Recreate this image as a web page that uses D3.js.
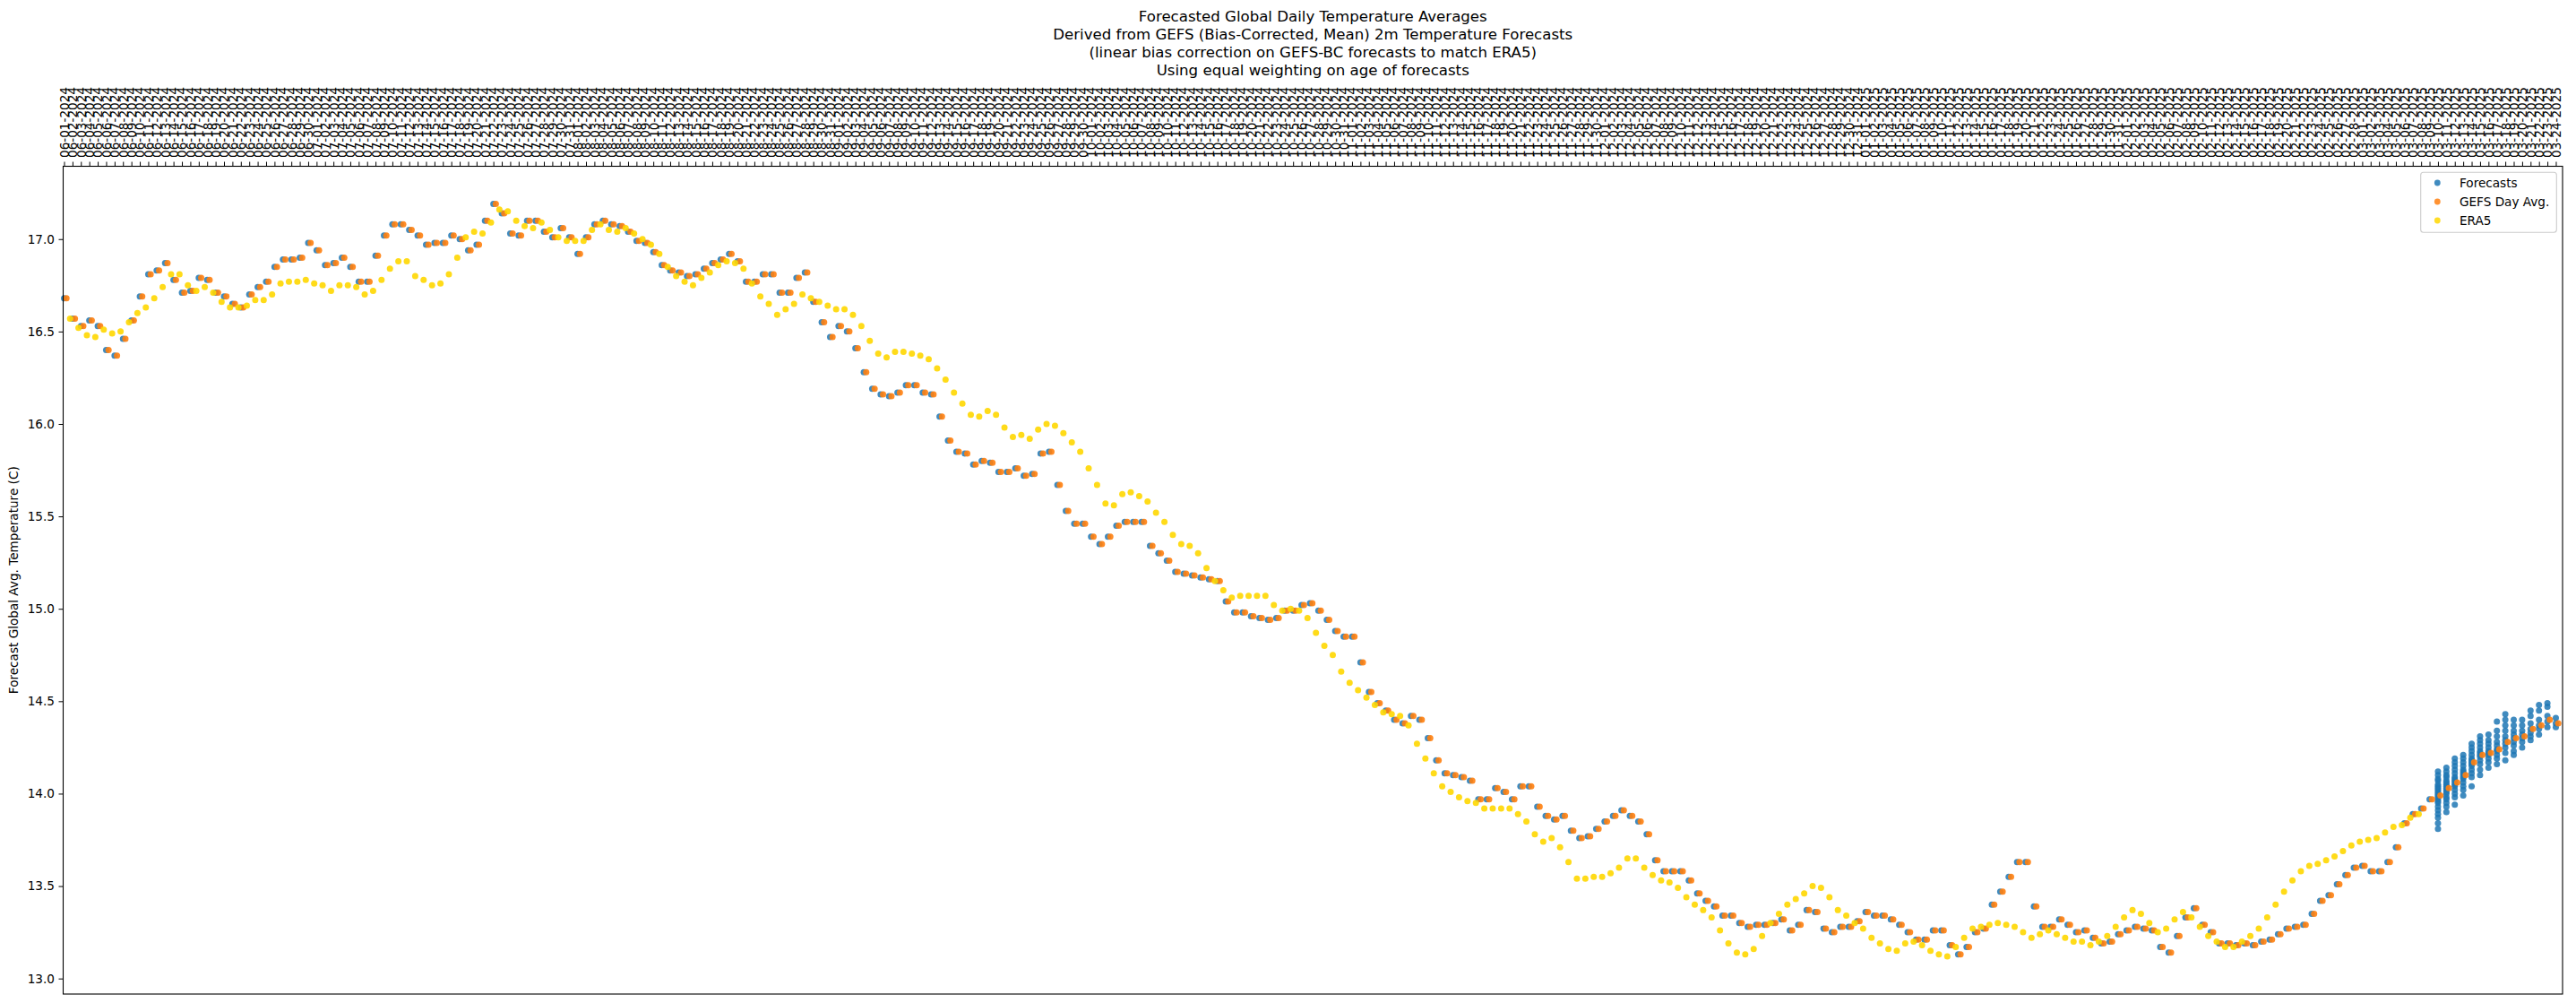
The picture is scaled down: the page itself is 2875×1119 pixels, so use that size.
<!DOCTYPE html>
<html><head><meta charset="utf-8">
<script src="https://cdn.jsdelivr.net/npm/d3@7"></script>
<style>body{margin:0;background:#fff}svg{display:block}</style>
</head><body><svg id="chart" width="2875" height="1119"></svg>
<script>
// ---------------- data ----------------
const startDate = "2024-06-01";
const endDate = "2025-03-24";
const tickFormatStr = "%m-%d-%Y";
const yTicks = [13.0, 13.5, 14.0, 14.5, 15.0, 15.5, 16.0, 16.5, 17.0];
const titleLines = [
  "Forecasted Global Daily Temperature Averages",
  "Derived from GEFS (Bias-Corrected, Mean) 2m Temperature Forecasts",
  "(linear bias correction on GEFS-BC forecasts to match ERA5)",
  "Using equal weighting on age of forecasts"
];
const yLabel = "Forecast Global Avg. Temperature (C)";
const seriesNames = ["Forecasts", "GEFS Day Avg.", "ERA5"];

// GEFS day average, one value per day from startDate
const gefsDayAvg = [
16.68,16.57,16.53,16.56,16.53,16.40,16.37,16.46,16.56,16.69,
16.81,16.83,16.87,16.78,16.71,16.72,16.79,16.78,16.71,16.69,
16.65,16.63,16.70,16.74,16.77,16.85,16.89,16.89,16.90,16.98,
16.94,16.86,16.87,16.90,16.85,16.77,16.77,16.91,17.02,17.08,
17.08,17.05,17.02,16.97,16.98,16.98,17.02,17.00,16.94,16.97,
17.10,17.19,17.14,17.03,17.02,17.10,17.10,17.04,17.01,17.06,
17.01,16.92,17.01,17.08,17.10,17.08,17.07,17.04,16.99,16.98,
16.93,16.86,16.83,16.82,16.80,16.81,16.84,16.87,16.89,16.92,
16.88,16.77,16.77,16.81,16.81,16.71,16.71,16.79,16.82,16.66,
16.55,16.47,16.53,16.50,16.41,16.28,16.19,16.16,16.15,16.17,
16.21,16.21,16.17,16.16,16.04,15.91,15.85,15.84,15.78,15.80,
15.79,15.74,15.74,15.76,15.72,15.73,15.84,15.85,15.67,15.53,
15.46,15.46,15.39,15.35,15.39,15.45,15.47,15.47,15.47,15.34,
15.30,15.26,15.20,15.19,15.18,15.17,15.16,15.15,15.04,14.98,
14.98,14.96,14.95,14.94,14.95,14.99,14.99,15.02,15.03,14.99,
14.94,14.88,14.85,14.85,14.71,14.55,14.49,14.45,14.40,14.38,
14.42,14.40,14.30,14.18,14.11,14.10,14.09,14.07,13.97,13.97,
14.03,14.01,13.97,14.04,14.04,13.93,13.88,13.86,13.88,13.80,
13.76,13.77,13.81,13.85,13.88,13.91,13.88,13.85,13.78,13.64,
13.58,13.58,13.58,13.53,13.46,13.42,13.39,13.34,13.34,13.30,
13.28,13.29,13.29,13.30,13.32,13.26,13.29,13.37,13.36,13.27,
13.25,13.28,13.28,13.31,13.36,13.34,13.34,13.32,13.29,13.25,
13.21,13.21,13.26,13.26,13.18,13.13,13.17,13.25,13.27,13.40,
13.47,13.55,13.63,13.63,13.39,13.28,13.28,13.32,13.29,13.25,
13.26,13.22,13.19,13.20,13.24,13.26,13.28,13.27,13.26,13.17,
13.14,13.23,13.33,13.38,13.29,13.25,13.19,13.19,13.18,13.19,
13.18,13.20,13.21,13.24,13.27,13.28,13.29,13.35,13.42,13.45,
13.51,13.56,13.60,13.61,13.58,13.58,13.63,13.71,13.84,13.89,
13.92,13.97,13.99,14.03,14.06,14.10,14.17,14.21,14.22,14.24,
14.28,14.30,14.31,14.35,14.37,14.40,14.38
];

// ERA5, one value per day from startDate
const era5 = [
16.57,16.52,16.48,16.47,16.51,16.49,16.50,16.55,16.60,16.63,
16.68,16.74,16.81,16.81,16.75,16.72,16.74,16.71,16.66,16.63,
16.63,16.64,16.67,16.67,16.70,16.76,16.77,16.77,16.78,16.76,
16.75,16.72,16.75,16.75,16.74,16.70,16.72,16.78,16.84,16.88,
16.88,16.80,16.78,16.75,16.76,16.81,16.90,17.01,17.04,17.03,
17.09,17.16,17.15,17.10,17.07,17.06,17.09,17.05,17.01,16.99,
16.99,16.99,17.05,17.08,17.05,17.04,17.06,17.03,17.00,16.97,
16.92,16.85,16.80,16.77,16.75,16.79,16.82,16.86,16.88,16.87,
16.84,16.76,16.69,16.65,16.59,16.62,16.65,16.70,16.68,16.66,
16.64,16.62,16.62,16.59,16.53,16.45,16.38,16.36,16.39,16.39,
16.38,16.37,16.35,16.30,16.24,16.17,16.11,16.05,16.04,16.07,
16.05,15.98,15.93,15.94,15.92,15.97,16.00,15.99,15.95,15.90,
15.85,15.76,15.67,15.57,15.56,15.62,15.63,15.61,15.58,15.52,
15.47,15.40,15.35,15.34,15.30,15.22,15.15,15.10,15.06,15.07,
15.07,15.07,15.07,15.02,14.99,15.00,14.99,14.95,14.87,14.80,
14.75,14.66,14.60,14.56,14.52,14.48,14.44,14.43,14.42,14.37,
14.27,14.19,14.11,14.04,14.01,13.98,13.96,13.95,13.92,13.92,
13.92,13.92,13.89,13.85,13.78,13.74,13.76,13.71,13.63,13.54,
13.54,13.55,13.55,13.57,13.60,13.65,13.65,13.60,13.56,13.53,
13.52,13.49,13.44,13.40,13.37,13.33,13.26,13.19,13.14,13.13,
13.16,13.23,13.30,13.35,13.40,13.43,13.46,13.50,13.49,13.44,
13.37,13.34,13.30,13.27,13.22,13.19,13.16,13.15,13.19,13.20,
13.18,13.15,13.13,13.12,13.17,13.22,13.27,13.28,13.29,13.30,
13.29,13.28,13.25,13.22,13.24,13.26,13.24,13.22,13.20,13.20,
13.18,13.20,13.23,13.28,13.33,13.37,13.35,13.30,13.25,13.27,
13.32,13.36,13.33,13.28,13.23,13.20,13.17,13.17,13.20,13.23,
13.27,13.33,13.40,13.47,13.53,13.58,13.61,13.62,13.64,13.66,
13.69,13.72,13.74,13.75,13.76,13.79,13.82,13.83,13.87,13.89
];

// Individual forecasts for the days still in the future (one column per day)
const forecastFirstDate = "2025-03-10";
const forecastColumns = [
  [14.12,14.10,14.08,14.07,14.05,14.04,14.03,14.02,14.01,14.00,13.99,13.98,13.97,13.96,13.95,13.93,13.91,13.89,13.87,13.84,13.81],
  [14.14,14.12,14.10,14.09,14.07,14.06,14.05,14.04,14.03,14.02,14.01,14.00,13.98,13.97,13.95,13.93,13.90],
  [14.19,14.17,14.15,14.13,14.11,14.09,14.08,14.07,14.06,14.05,14.04,14.02,14.00,13.98,13.94],
  [14.21,14.19,14.17,14.15,14.13,14.12,14.11,14.10,14.09,14.08,14.06,14.04,14.02,13.99],
  [14.27,14.25,14.23,14.21,14.19,14.18,14.17,14.16,14.15,14.13,14.11,14.09,14.04],
  [14.31,14.29,14.27,14.25,14.23,14.22,14.21,14.20,14.18,14.16,14.13,14.10],
  [14.32,14.29,14.27,14.25,14.23,14.22,14.21,14.19,14.17,14.14],
  [14.39,14.34,14.31,14.28,14.26,14.24,14.23,14.21,14.19,14.16],
  [14.43,14.40,14.37,14.34,14.31,14.29,14.27,14.25,14.22,14.18],
  [14.40,14.37,14.34,14.32,14.30,14.28,14.26,14.23,14.21],
  [14.40,14.37,14.34,14.32,14.30,14.28,14.25],
  [14.45,14.42,14.38,14.35,14.33,14.31,14.29],
  [14.48,14.45,14.40,14.37,14.35,14.32],
  [14.49,14.47,14.42,14.39,14.36],
  [14.41,14.38,14.36]
];

// ---------------- drawing ----------------
const W = 2875, H = 1119;
const plot = {left: 70.5, right: 2860, top: 185.5, bottom: 1109};
const FONT = "DejaVu Sans";
const colors = {fc: "#1f77b4", gefs: "#ff7f0e", era5: "#ffd700"};
const R = 3.5;

const parse = d3.timeParse("%Y-%m-%d");
const t0 = parse(startDate), t1 = parse(endDate);
const days = d3.timeDay.range(t0, d3.timeDay.offset(t1, 1));
const hour = 3600 * 1000;

const x = d3.scaleTime()
  .domain([new Date(+t0 - 2.55 * hour), new Date(+t1 + 19.2 * hour)])
  .range([plot.left, plot.right]);
const y = d3.scaleLinear().domain([12.916, 17.394]).range([plot.bottom, plot.top]);

const svg = d3.select("#chart");
svg.append("rect").attr("width", W).attr("height", H).attr("fill", "#fff");

// offsets of each series inside its day (as plotted in the original)
const offFc = 0, offGefs = 6.9 * hour, offEra = 17.1 * hour;
const dayAt = i => d3.timeDay.offset(t0, i);

// forecasts (blue): past days one point, future days many
const fcPoints = [];
const fcStartIdx = d3.timeDay.count(t0, parse(forecastFirstDate));
for (let i = 0; i < fcStartIdx; i++) fcPoints.push({d: dayAt(i), v: gefsDayAvg[i]});
forecastColumns.forEach((col, j) => col.forEach(v => fcPoints.push({d: dayAt(fcStartIdx + j), v})));

const marks = svg.append("g");
marks.append("g").selectAll("circle").data(fcPoints).join("circle")
  .attr("cx", p => x(new Date(+p.d + offFc))).attr("cy", p => y(p.v)).attr("r", R)
  .attr("fill", colors.fc).attr("fill-opacity", 0.85);
marks.append("g").selectAll("circle").data(gefsDayAvg).join("circle")
  .attr("cx", (v, i) => x(new Date(+dayAt(i) + offGefs))).attr("cy", v => y(v)).attr("r", R)
  .attr("fill", colors.gefs).attr("fill-opacity", 0.9);
marks.append("g").selectAll("circle").data(era5).join("circle")
  .attr("cx", (v, i) => x(new Date(+dayAt(i) + offEra))).attr("cy", v => y(v)).attr("r", R)
  .attr("fill", colors.era5).attr("fill-opacity", 0.9);

// frame
svg.append("rect").attr("x", plot.left).attr("y", plot.top)
  .attr("width", plot.right - plot.left).attr("height", plot.bottom - plot.top)
  .attr("fill", "none").attr("stroke", "#000").attr("stroke-width", 1.1);

// top axis with daily labels
const xAxis = d3.axisTop(x).tickValues(days).tickFormat(d3.timeFormat(tickFormatStr)).tickSize(5).tickSizeOuter(0);
const gx = svg.append("g").attr("transform", `translate(0,${plot.top})`).call(xAxis);
gx.select(".domain").remove();
gx.selectAll(".tick line").attr("stroke", "#000").attr("stroke-width", 1);
gx.selectAll(".tick text")
  .attr("transform", "rotate(-90)").attr("x", 9.5).attr("y", 0).attr("dy", "0.36em")
  .style("text-anchor", "start").style("font-family", FONT).style("font-size", "13.6px").attr("fill", "#000");

// left axis
const yAxis = d3.axisLeft(y).tickValues(yTicks).tickFormat(d3.format(".1f")).tickSize(5).tickPadding(4.5).tickSizeOuter(0);
const gy = svg.append("g").attr("transform", `translate(${plot.left},0)`).call(yAxis);
gy.select(".domain").remove();
gy.selectAll(".tick line").attr("stroke", "#000").attr("stroke-width", 1);
gy.selectAll(".tick text").style("font-family", FONT).style("font-size", "13.6px").attr("fill", "#000");

// y label
svg.append("text").attr("transform", `translate(15,${(plot.top + plot.bottom) / 2}) rotate(-90)`)
  .attr("text-anchor", "middle").attr("dominant-baseline", "central")
  .style("font-family", FONT).style("font-size", "13.6px").text(yLabel);

// title
svg.append("g").selectAll("text").data(titleLines).join("text")
  .attr("x", (plot.left + plot.right) / 2).attr("y", (d, i) => 23.5 + i * 20.2)
  .attr("text-anchor", "middle").style("font-family", FONT).style("font-size", "16.6px").text(d => d);

// legend
const lg = svg.append("g");
lg.append("rect").attr("x", 2701.7).attr("y", 192.3).attr("width", 151.6).attr("height", 67).attr("rx", 3)
  .attr("fill", "#fff").attr("fill-opacity", 0.8).attr("stroke", "#cccccc").attr("stroke-width", 1.1);
const lgColors = [colors.fc, colors.gefs, colors.era5];
seriesNames.forEach((name, i) => {
  const yy = 204 + i * 21;
  lg.append("circle").attr("cx", 2720.3).attr("cy", yy).attr("r", 3.4).attr("fill", lgColors[i]).attr("fill-opacity", 0.85);
  lg.append("text").attr("x", 2745).attr("y", yy).attr("dominant-baseline", "central")
    .style("font-family", FONT).style("font-size", "13.6px").text(name);
});
</script>
</body></html>
